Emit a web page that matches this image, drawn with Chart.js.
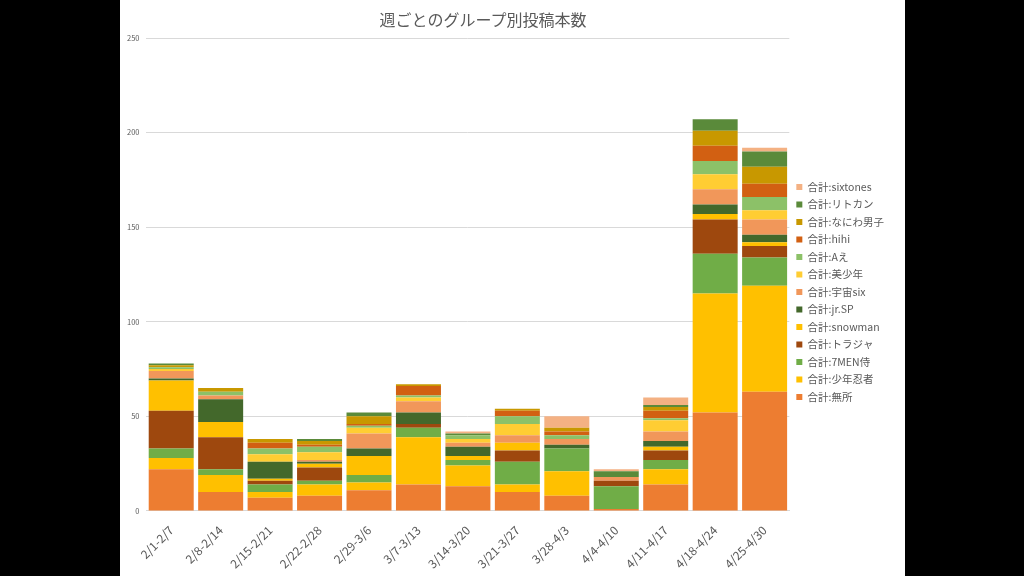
<!DOCTYPE html>
<html>
<head>
<meta charset="utf-8">
<script src="https://cdn.jsdelivr.net/npm/chart.js@4"></script>
<style>
  html, body { margin: 0; padding: 0; background: #000; }
  #frame { position: absolute; left: 120px; top: 0; width: 785px; height: 576px; background: #fff; }
  #title { position: absolute; left: 0; width: 726px; top: 7px; text-align: center;
           font: 16px "Noto Sans CJK JP", sans-serif; color: #595959; }
  #wrap { position: absolute; left: 0; top: 0; width: 785px; height: 576px; }
</style>
</head>
<body>
<div id="frame">
  <div id="wrap"><canvas id="chart"></canvas></div>
  <div id="title">週ごとのグループ別投稿本数</div>
</div>
<script>
const weeks = ['2/1-2/7', '2/8-2/14', '2/15-2/21', '2/22-2/28', '2/29-3/6', '3/7-3/13', '3/14-3/20',
               '3/21-3/27', '3/28-4/3', '4/4-4/10', '4/11-4/17', '4/18-4/24', '4/25-4/30'];

// stacked from the bottom up
const mushozoku   = [22, 10, 7, 8, 11, 14, 13, 10, 8, 1, 14, 52, 63];
const shonenNinja = [6, 9, 3, 6, 4, 25, 11, 4, 13, 0, 8, 63, 56];
const sevenMen    = [5, 3, 4, 2, 4, 5, 3, 12, 12, 12, 5, 21, 15];
const travisJapan = [20, 17, 2, 7, 0, 2, 0, 6, 0, 3, 5, 18, 6];
const snowman     = [16, 8, 1, 2, 10, 0, 2, 4, 0, 0, 2, 3, 2];
const jrSP        = [1, 12, 9, 1, 4, 6, 5, 0, 2, 0, 3, 5, 4];
const uchuSix     = [4, 2, 0, 1, 8, 6, 2, 4, 3, 2, 5, 8, 8];
const bishonen    = [1, 0, 4, 4, 3, 2, 2, 6, 0, 0, 6, 8, 5];
const aee         = [1, 2, 3, 3, 1, 1, 2, 4, 2, 0, 1, 7, 7];
const hihi        = [0, 0, 3, 1, 1, 5, 0, 3, 2, 0, 4, 8, 7];
const naniwa      = [1, 2, 2, 2, 4, 1, 0, 1, 2, 0, 2, 8, 9];
const ritokan     = [1, 0, 0, 1, 2, 0, 1, 0, 0, 3, 1, 6, 8];
const sixtones    = [0, 0, 0, 0, 0, 0, 1, 0, 6, 1, 4, 0, 2];

const yTicks = [0, 50, 100, 150, 200, 250];

const series = [
  ['合計:無所', mushozoku, '#ED7D31'],
  ['合計:少年忍者', shonenNinja, '#FFC000'],
  ['合計:7MEN侍', sevenMen, '#70AD47'],
  ['合計:トラジャ', travisJapan, '#9E480E'],
  ['合計:snowman', snowman, '#FFC000'],
  ['合計:jr.SP', jrSP, '#43682B'],
  ['合計:宇宙six', uchuSix, '#F1975A'],
  ['合計:美少年', bishonen, '#FFCD33'],
  ['合計:Aえ', aee, '#8CC168'],
  ['合計:hihi', hihi, '#D26012'],
  ['合計:なにわ男子', naniwa, '#C89800'],
  ['合計:リトカン', ritokan, '#5A8A3A'],
  ['合計:sixtones', sixtones, '#F4B183']
];

const grey = '#595959';
const font = '"Noto Sans CJK JP", "Noto Sans", sans-serif';

new Chart(document.getElementById('chart'), {
  type: 'bar',
  data: {
    labels: weeks,
    datasets: series.map(([label, data, color]) => ({
      label: label,
      data: data,
      backgroundColor: color,
      borderWidth: 0,
      categoryPercentage: 1,
      barPercentage: 0.91
    }))
  },
  options: {
    responsive: true,
    maintainAspectRatio: false,
    animation: false,
    // small top padding keeps the legend centred like the original,
    // the plot top is pushed down by the y axis below
    layout: { padding: { top: 9, left: 0, right: 11, bottom: 1 } },
    scales: {
      x: {
        stacked: true,
        grid: { display: false },
        border: { color: '#d9d9d9' },
        // let the first rotated label hang out to the left like in excel
        afterFit: axis => { axis.paddingLeft = 0; },
        ticks: { color: grey, font: { family: font, size: 12 }, minRotation: 45, maxRotation: 45, padding: 4 }
      },
      y: {
        stacked: true,
        min: yTicks[0],
        max: yTicks[yTicks.length - 1],
        afterBuildTicks: axis => { axis.ticks = yTicks.map(v => ({ value: v })); },
        afterFit: axis => { axis.paddingTop = 38; },
        grid: { color: '#d9d9d9', drawTicks: false },
        border: { display: false },
        ticks: { color: grey, font: { family: font, size: 7.5 }, padding: 7 }
      }
    },
    plugins: {
      title: { display: false },
      tooltip: { enabled: false },
      legend: {
        position: 'right',
        reverse: true,
        labels: {
          color: grey,
          font: { family: font, size: 10.5 },
          boxWidth: 6,
          boxHeight: 6,
          padding: 7
        }
      }
    }
  }
});
</script>
</body>
</html>
